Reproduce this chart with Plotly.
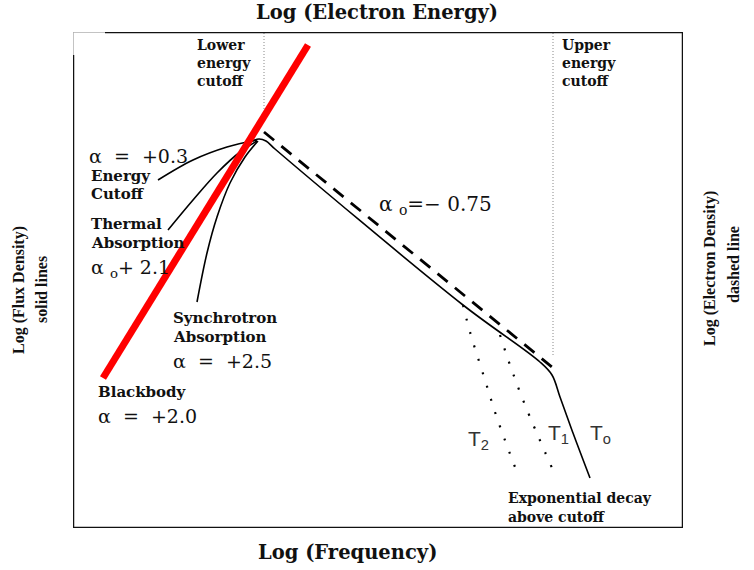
import plotly.graph_objects as go

# ---- data (schematic, in plot-pixel coordinates) ----
blackbody_x = [103, 308]
blackbody_y = [378, 45]

main_x = [250, 259, 266, 275, 463, 540, 552, 560, 573, 590]
main_y = [142, 139, 141, 149, 305, 362, 375, 397, 433, 478]

dashed_x = [264, 552]
dashed_y = [132, 367]

cutoff_x = [158, 193, 227, 257]
cutoff_y = [180, 160, 147, 140]

thermal_x = [168, 193, 217, 240, 257]
thermal_y = [230, 200, 173, 152, 141]

synch_x = [197, 207, 217, 230, 245, 258]
synch_y = [302, 253, 217, 183, 157, 141]

t2_x = [463, 470, 485, 497, 515]
t2_y = [305, 332, 380, 418, 467]

t1_x = [500, 510, 525, 552]
t1_y = [335, 365, 405, 468]

lower_cut_x = [264, 264]
lower_cut_y = [33, 110]
upper_cut_x = [553, 553]
upper_cut_y = [33, 355]

X0, X1, Y0, Y1 = 73, 683, 32, 528

fig = go.Figure()

def line(x, y, color="black", width=1.6, dash="solid", shape="linear"):
    fig.add_trace(go.Scatter(x=x, y=y, mode="lines",
                             line=dict(color=color, width=width, dash=dash, shape=shape),
                             hoverinfo="skip", showlegend=False))

line(lower_cut_x, lower_cut_y, color="#888888", width=1, dash="1px,2px")
line(upper_cut_x, upper_cut_y, color="#888888", width=1, dash="1px,2px")
line(cutoff_x, cutoff_y, shape="spline")
line(thermal_x, thermal_y, shape="spline")
line(synch_x, synch_y, shape="spline")
line(main_x, main_y, shape="spline")
line(dashed_x, dashed_y, width=2.8, dash="13px,9.4px")
line(t2_x, t2_y, width=2.2, dash="2px,12px", shape="spline")
line(t1_x, t1_y, width=2.2, dash="2px,12px", shape="spline")
line(blackbody_x, blackbody_y, color="#ff0000", width=7)

# frame
fig.add_shape(type="rect", x0=X0, x1=X1, y0=Y0, y1=Y1, xref="x", yref="y",
              line=dict(color="#b0b0b0", width=1.5))
for (xa, ya, xb, yb) in [(X0, 55, X0, Y1), (105, Y0, X1, Y0), (X1, Y0, X1, Y1), (X0, Y1, X1, Y1)]:
    fig.add_shape(type="line", x0=xa, y0=ya, x1=xb, y1=yb, xref="x", yref="y",
                  line=dict(color="#111111", width=2.5))

SERIF = "DejaVu Serif"
TIMES = "Liberation Serif"

def px(x):
    return (x - X0) / (X1 - X0)

def py(y):
    return (Y1 - y) / (Y1 - Y0)

def text(t, x, y, size=15, bold=True, xanchor="left", family=SERIF, angle=0, color="#111111"):
    fig.add_annotation(text=t, x=px(x), y=py(y), xref="paper", yref="paper",
                       showarrow=False, xanchor=xanchor, yanchor="middle", textangle=angle,
                       font=dict(family=family, size=size, color=color,
                                 weight="bold" if bold else "normal"))

# axis titles
text("Log (Electron Energy)", 377, 13, size=19.5, xanchor="center")
text("Log (Frequency)", 347, 552, size=19.5, xanchor="center")
text("Log (Flux Density)", 19, 290, size=16, xanchor="center", angle=-90, family=TIMES)
text("solid lines", 41, 290, size=16, xanchor="center", angle=-90, family=TIMES)
text("Log (Electron Density)", 710, 268, size=16, xanchor="center", angle=-90, family=TIMES)
text("dashed line", 733, 265, size=16, xanchor="center", angle=-90, family=TIMES)

# labels
for i, t in enumerate(["Lower", "energy", "cutoff"]):
    text(t, 195, 45 + 18 * i, size=14)
for i, t in enumerate(["Upper", "energy", "cutoff"]):
    text(t, 560, 45 + 18 * i, size=14)

text("α  =  +0.3", 87, 156, size=19, bold=False)
text("Energy", 89, 176, size=15)
text("Cutoff", 89, 194, size=15)
text("Thermal", 89, 224, size=15)
text("Absorption", 89, 243, size=15)
text("α <sub>o</sub>+ 2.1", 89, 268, size=19, bold=False)
text("Synchrotron", 171, 318, size=15)
text("Absorption", 171, 337, size=15)
text("α  =  +2.5", 171, 361, size=19, bold=False)
text("Blackbody", 96, 392, size=15)
text("α  =  +2.0", 96, 416, size=19, bold=False)
text("α <sub>o</sub>=− 0.75", 377, 205, size=20, bold=False)
text("Exponential decay", 506, 498, size=14)
text("above cutoff", 506, 517, size=14)

SANS = "Liberation Sans"
text("T<sub>2</sub>", 466, 440, size=21, bold=False, family=SANS, color="#333333")
text("T<sub>1</sub>", 546, 434, size=21, bold=False, family=SANS, color="#333333")
text("T<sub>o</sub>", 588, 434, size=21, bold=False, family=SANS, color="#333333")

fig.update_layout(
    width=754, height=570,
    margin=dict(l=X0, r=754 - X1, t=Y0, b=570 - Y1),
    paper_bgcolor="white", plot_bgcolor="white",
    xaxis=dict(range=[X0, X1], visible=False, fixedrange=True),
    yaxis=dict(range=[Y1, Y0], visible=False, fixedrange=True),
    showlegend=False,
)

fig.write_html("out.html")
